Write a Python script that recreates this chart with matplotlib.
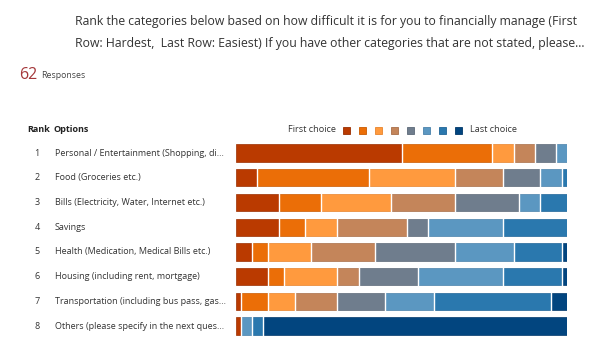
import numpy as np
import matplotlib
matplotlib.use("Agg")
from matplotlib import pyplot as plt
from matplotlib.transforms import blended_transform_factory

plt.rcParams['font.family'] = ['Open Sans', 'DejaVu Sans']

# question + responses
title_lines = ["Rank the categories below based on how difficult it is for you to financially manage (First",
               "Row: Hardest,  Last Row: Easiest) If you have other categories that are not stated, please..."]
n_responses = 62

ranks = [1, 2, 3, 4, 5, 6, 7, 8]
options = ["Personal / Entertainment (Shopping, di...",
           "Food (Groceries etc.)",
           "Bills (Electricity, Water, Internet etc.)",
           "Savings",
           "Health (Medication, Medical Bills etc.)",
           "Housing (including rent, mortgage)",
           "Transportation (including bus pass, gas...",
           "Others (please specify in the next ques..."]

# counts for choice 1..8 per option (62 responses each)
choice1 = [31, 4, 8, 8, 3, 6, 1, 1]
choice2 = [17, 21, 8, 5, 3, 3, 5, 0]
choice3 = [4, 16, 13, 6, 8, 10, 5, 0]
choice4 = [4, 9, 12, 13, 12, 4, 8, 0]
choice5 = [4, 7, 12, 4, 15, 11, 9, 0]
choice6 = [2, 4, 4, 14, 11, 16, 9, 2]
choice7 = [0, 1, 5, 12, 9, 11, 22, 2]
choice8 = [0, 0, 0, 0, 1, 1, 3, 57]
choices = [choice1, choice2, choice3, choice4, choice5, choice6, choice7, choice8]

colors = ["#BA3A00", "#EB6E07", "#FF9A3E", "#C4855A",
          "#6F7D8D", "#5B97C1", "#2A78AE", "#02457F"]
edges = ["#9A2E00", "#C95A00", "#E8842C", "#A86E48",
         "#5C6978", "#4A82AB", "#1F6497", "#01386A"]

W, H = 596, 364
fig = plt.figure(figsize=(W / 100, H / 100), dpi=100)

# overlay for header text, pixel coordinates
ov = fig.add_axes([0, 0, 1, 1])
ov.set_xlim(0, W)
ov.set_ylim(H, 0)
ov.axis("off")

txt = "#333333"
ov.text(75, 22, title_lines[0], fontsize=8.85, color=txt, va="center")
ov.text(75, 43, title_lines[1], fontsize=8.85, color=txt, va="center")
ov.text(19, 75, str(n_responses), fontsize=11.5, color="#A4373A", va="center")
ov.text(41, 75, "Responses", fontsize=6.3, color="#444444", va="center")

ov.text(27, 130, "Rank", fontsize=6.5, fontweight="bold", color="#222222", va="center")
ov.text(53, 130, "Options", fontsize=6.5, fontweight="bold", color="#222222", va="center")

# legend
ov.text(288, 130, "First choice", fontsize=6.6, color="#333333", va="center")
for i, c in enumerate(colors):
    x0 = 343 + i * 16.05
    ov.add_patch(plt.Rectangle((x0, 126.5), 7, 7, facecolor=c, edgecolor=edges[i], lw=0.6))
ov.text(470, 130, "Last choice", fontsize=6.6, color="#333333", va="center")

# bars
ax = fig.add_axes([236 / W, 25.6 / H, 331 / W, 197.7 / H])
y = np.arange(len(options))
left = np.zeros(len(options))
for i, vals in enumerate(choices):
    vals = np.array(vals, dtype=float)
    ax.barh(y, vals, left=left, height=0.7, color=colors[i],
            edgecolor=edges[i], linewidth=0.5)
    left += vals
ax.set_xlim(0, n_responses)
ax.set_ylim(len(options) - 0.5, -0.5)
ax.axis("off")

# white gaps between segments
cum = np.cumsum(np.array(choices), axis=0)
for j in range(len(options)):
    for k in range(len(choices) - 1):
        if choices[k][j] > 0 and cum[k][j] < n_responses:
            ax.plot([cum[k][j], cum[k][j]], [j - 0.37, j + 0.37], color="white", lw=1.0)

tr = blended_transform_factory(fig.transFigure, ax.transData)
for j in range(len(options)):
    ax.text(37 / W, j, str(ranks[j]), transform=tr, fontsize=6.5, color=txt,
            ha="center", va="center")
    ax.text(55 / W, j, options[j], transform=tr, fontsize=6.5, color=txt,
            ha="left", va="center")

fig.savefig("out.png", dpi=100)
